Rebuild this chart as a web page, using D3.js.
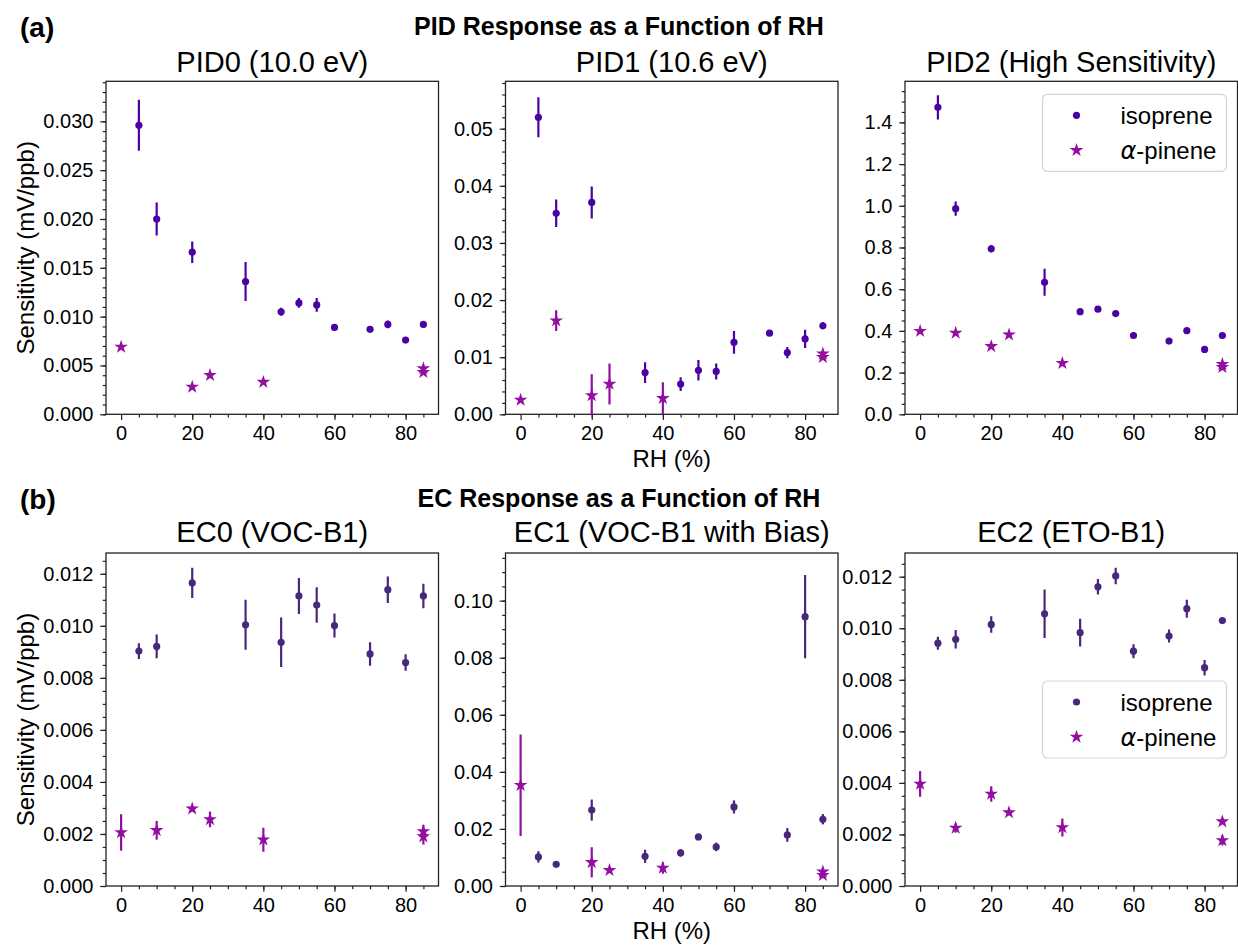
<!DOCTYPE html>
<html>
<head>
<meta charset="utf-8">
<script src="https://cdn.jsdelivr.net/npm/d3@7"></script>
<style>
  body { margin: 0; background: #fff; }
  text { font-family: "Liberation Sans", Arial, sans-serif; fill: #000; }
</style>
</head>
<body>
<div id="chart"></div>
<script>
// RH steps (%)
const rhIso = [5, 10, 20, 35, 45, 50, 55, 60, 70, 75, 80, 85];
const rhIsoEc1 = [5, 10, 20, 35, 45, 50, 55, 60, 75, 80, 85];
const rhPin = [0, 10, 20, 25, 40, 85, 85];
const rhPinNo10 = [0, 20, 25, 40, 85, 85];

// PID0 (10.0 eV)
const pid0Iso = [0.0296, 0.0200, 0.0166, 0.0136, 0.0105, 0.0114, 0.0112, 0.0089, 0.0087, 0.0092, 0.0076, 0.0092];
const pid0IsoErr = [0.0026, 0.0017, 0.0011, 0.0020, 0.0004, 0.0005, 0.0007, 0.0002, 0.0002, 0.0004, 0.0002, 0.0003];
const pid0Pin = [0.0069, 0.0028, 0.0040, 0.0033, 0.0047, 0.0043];
const pid0PinErr = [0.0001, 0.0001, 0.0001, 0.0001, 0.0002, 0.0002];

// PID1 (10.6 eV)
const pid1Iso = [0.0520, 0.0352, 0.0371, 0.0073, 0.0053, 0.0077, 0.0075, 0.0126, 0.0142, 0.0108, 0.0132, 0.0155];
const pid1IsoErr = [0.0035, 0.0024, 0.0028, 0.0018, 0.0012, 0.0018, 0.0014, 0.0020, 0.0005, 0.0010, 0.0016, 0.0006];
const pid1Pin = [0.0025, 0.0164, 0.0033, 0.0053, 0.0028, 0.0106, 0.0100];
const pid1PinErr = [0.0002, 0.0018, 0.0037, 0.0036, 0.0028, 0.0005, 0.0005];

// PID2 (High Sensitivity)
const pid2Iso = [1.472, 0.986, 0.794, 0.633, 0.492, 0.504, 0.483, 0.378, 0.351, 0.401, 0.311, 0.378];
const pid2IsoErr = [0.058, 0.034, 0.018, 0.065, 0.008, 0.008, 0.008, 0.006, 0.006, 0.006, 0.006, 0.006];
const pid2Pin = [0.399, 0.390, 0.326, 0.382, 0.245, 0.240, 0.226];
const pid2PinErr = [0.005, 0.005, 0.008, 0.008, 0.008, 0.010, 0.010];

// EC0 (VOC-B1)
const ec0Iso = [0.00903, 0.00921, 0.01165, 0.01004, 0.00937, 0.01115, 0.01080, 0.01001, 0.00892, 0.01139, 0.00859, 0.01115];
const ec0IsoErr = [0.00030, 0.00046, 0.00058, 0.00096, 0.00095, 0.00069, 0.00068, 0.00046, 0.00045, 0.00051, 0.00032, 0.00047];
const ec0Pin = [0.00206, 0.00214, 0.00297, 0.00256, 0.00178, 0.00210, 0.00190];
const ec0PinErr = [0.00070, 0.00036, 0.00010, 0.00030, 0.00046, 0.00025, 0.00030];

// EC1 (VOC-B1 with Bias)
const ec1Iso = [0.0102, 0.0076, 0.0266, 0.0104, 0.0116, 0.0172, 0.0137, 0.0277, 0.0179, 0.0944, 0.0234];
const ec1IsoErr = [0.0020, 0.0004, 0.0037, 0.0023, 0.0013, 0.0010, 0.0015, 0.0023, 0.0024, 0.0146, 0.0018];
const ec1Pin = [0.0353, 0.0083, 0.0055, 0.0063, 0.0050, 0.0038];
const ec1PinErr = [0.0178, 0.0053, 0.0008, 0.0020, 0.0008, 0.0008];

// EC2 (ETO-B1)
const ec2Iso = [0.00942, 0.00957, 0.01015, 0.01056, 0.00983, 0.01161, 0.01203, 0.00911, 0.00970, 0.01076, 0.00847, 0.01030];
const ec2IsoErr = [0.00025, 0.00036, 0.00032, 0.00094, 0.00054, 0.00030, 0.00032, 0.00027, 0.00025, 0.00035, 0.00030, 0.00010];
const ec2Pin = [0.00396, 0.00225, 0.00357, 0.00285, 0.00227, 0.00250, 0.00177];
const ec2PinErr = [0.00050, 0.00018, 0.00030, 0.00010, 0.00035, 0.00010, 0.00020];

const titles = ["PID0 (10.0 eV)", "PID1 (10.6 eV)", "PID2 (High Sensitivity)",
                "EC0 (VOC-B1)", "EC1 (VOC-B1 with Bias)", "EC2 (ETO-B1)"];
const rowTitles = ["PID Response as a Function of RH", "EC Response as a Function of RH"];
const rowLetters = ["(a)", "(b)"];
const yMax = [0.0341, 0.0583, 1.597, 0.0128, 0.1167, 0.01292];
const yMajor = [0.005, 0.01, 0.2, 0.002, 0.02, 0.002];
const yMinor = [0.001, 0.002, 0.05, 0.0005, 0.005, 0.0005];
const yFmt = [".3f", ".2f", ".1f", ".3f", ".2f", ".3f"];
const xTicks = [0, 20, 40, 60, 80];
const legendLabels = ["isoprene", "-pinene"];

const panels = [
    { iso: [rhIso, pid0Iso, pid0IsoErr], pin: [rhPinNo10, pid0Pin, pid0PinErr] },
    { iso: [rhIso, pid1Iso, pid1IsoErr], pin: [rhPin, pid1Pin, pid1PinErr] },
    { iso: [rhIso, pid2Iso, pid2IsoErr], pin: [rhPin, pid2Pin, pid2PinErr] },
    { iso: [rhIso, ec0Iso, ec0IsoErr], pin: [rhPin, ec0Pin, ec0PinErr] },
    { iso: [rhIsoEc1, ec1Iso, ec1IsoErr], pin: [rhPinNo10, ec1Pin, ec1PinErr] },
    { iso: [rhIso, ec2Iso, ec2IsoErr], pin: [rhPin, ec2Pin, ec2PinErr] }
];

const pidIsoColor = "#4a03a2";
const ecIsoColor = "#48287a";
const pinColor = "#930fa2";

const W = 1238, H = 945;
const lefts = [106, 505.5, 905];
const tops = [81.3, 553];
const pw = 332.5, ph = 333;
const majorLen = 5.8, minorLen = 3.3, tickPad = 6.8;

const svg = d3.select("#chart").append("svg")
    .attr("width", W).attr("height", H);

const star = d3.symbol().type(d3.symbolStar).size(58);

function toPts(arr) {
    return arr[0].map((x, i) => ({ x, y: arr[1][i], e: arr[2][i] }));
}

panels.forEach((p, k) => {
    const row = Math.floor(k / 3), col = k % 3;
    const left = lefts[col], top = tops[row];
    const g = svg.append("g").attr("transform", `translate(${left},${top})`);

    const x = d3.scaleLinear().domain([-4.25, 89.25]).range([0, pw]);
    const y = d3.scaleLinear().domain([0, yMax[k]]).range([ph, 0]);

    const clipId = "clip" + k;
    g.append("clipPath").attr("id", clipId)
        .append("rect").attr("width", pw).attr("height", ph);

    // axes
    const yMaj = d3.range(0, yMax[k] + 1e-9, yMajor[k]);
    const yMin = d3.range(0, yMax[k], yMinor[k]);
    const xMin = d3.range(5, 89, 5);

    g.append("g").attr("transform", `translate(0,${ph})`)
        .call(d3.axisBottom(x).tickValues(xTicks).tickSize(majorLen).tickPadding(tickPad - 1));
    g.append("g").attr("transform", `translate(0,${ph})`)
        .call(d3.axisBottom(x).tickValues(xMin).tickSize(minorLen).tickFormat(""));
    g.append("g")
        .call(d3.axisLeft(y).tickValues(yMaj).tickFormat(d3.format(yFmt[k])).tickSize(majorLen).tickPadding(tickPad));
    g.append("g")
        .call(d3.axisLeft(y).tickValues(yMin).tickSize(minorLen).tickFormat(""));

    g.selectAll(".domain").remove();
    g.selectAll(".tick line").attr("stroke", "#222").attr("stroke-width", 1.2);
    g.selectAll(".tick text").style("font-size", "20px").attr("fill", "#000")
        .style("font-family", '"Liberation Sans", Arial, sans-serif');

    g.append("rect").attr("width", pw).attr("height", ph)
        .attr("fill", "none").attr("stroke", "#222").attr("stroke-width", 1.3);

    // data
    const plot = g.append("g").attr("clip-path", `url(#${clipId})`);
    const isoColor = row === 0 ? pidIsoColor : ecIsoColor;
    const series = [
        { pts: toPts(p.iso), color: isoColor, shape: "circle" },
        { pts: toPts(p.pin), color: pinColor, shape: "star" }
    ];
    series.forEach(s => {
        plot.selectAll(null).data(s.pts).enter().append("line")
            .attr("x1", d => x(d.x)).attr("x2", d => x(d.x))
            .attr("y1", d => y(d.y - d.e)).attr("y2", d => y(d.y + d.e))
            .attr("stroke", s.color).attr("stroke-width", 2.2);
        if (s.shape === "circle") {
            plot.selectAll(null).data(s.pts).enter().append("circle")
                .attr("cx", d => x(d.x)).attr("cy", d => y(d.y))
                .attr("r", 3.6).attr("fill", s.color);
        } else {
            plot.selectAll(null).data(s.pts).enter().append("path")
                .attr("d", star)
                .attr("transform", d => `translate(${x(d.x)},${y(d.y)})`)
                .attr("fill", s.color);
        }
    });

    // title
    g.append("text").attr("x", pw / 2).attr("y", row === 0 ? -9.5 : -11)
        .attr("text-anchor", "middle").style("font-size", "29px").text(titles[k]);

    if (col === 0) {
        g.append("text")
            .attr("transform", `translate(${-72},${ph / 2}) rotate(-90)`)
            .attr("text-anchor", "middle").style("font-size", "24px")
            .text("Sensitivity (mV/ppb)");
    }
    if (col === 1) {
        g.append("text").attr("x", pw / 2).attr("y", ph + 53)
            .attr("text-anchor", "middle").style("font-size", "24px").text("RH (%)");
    }

    if (col === 2) {
        const lw = 184, lh = 77;
        const lx = pw - 11 - lw;
        const ly = row === 0 ? 13 : 128;
        const lg = g.append("g").attr("transform", `translate(${lx},${ly})`);
        lg.append("rect").attr("width", lw).attr("height", lh).attr("rx", 5)
            .attr("fill", "#fff").attr("fill-opacity", 0.8)
            .attr("stroke", "#d5d5d5").attr("stroke-width", 1.2);
        series.forEach((s, i) => {
            const cy = 21 + i * 35;
            if (s.shape === "circle") {
                lg.append("circle").attr("cx", 34).attr("cy", cy).attr("r", 3.6).attr("fill", s.color);
            } else {
                lg.append("path").attr("d", star).attr("transform", `translate(34,${cy})`).attr("fill", s.color);
            }
            const t = lg.append("text").attr("x", 78).attr("y", cy + 8.5).style("font-size", "24px");
            if (i === 1) {
                t.append("tspan").style("font-family", '"DejaVu Sans", sans-serif')
                    .style("font-style", "italic").text("α");
            }
            t.append("tspan").text(legendLabels[i]);
        });
    }
});

// row headings
rowTitles.forEach((t, r) => {
    svg.append("text").attr("x", 619).attr("y", tops[r] - 46.5)
        .attr("text-anchor", "middle").style("font-size", "25px").style("font-weight", "bold")
        .text(t);
    svg.append("text").attr("x", 20).attr("y", tops[r] - 44.5)
        .style("font-size", "28px").style("font-weight", "bold").text(rowLetters[r]);
});
</script>
</body>
</html>
